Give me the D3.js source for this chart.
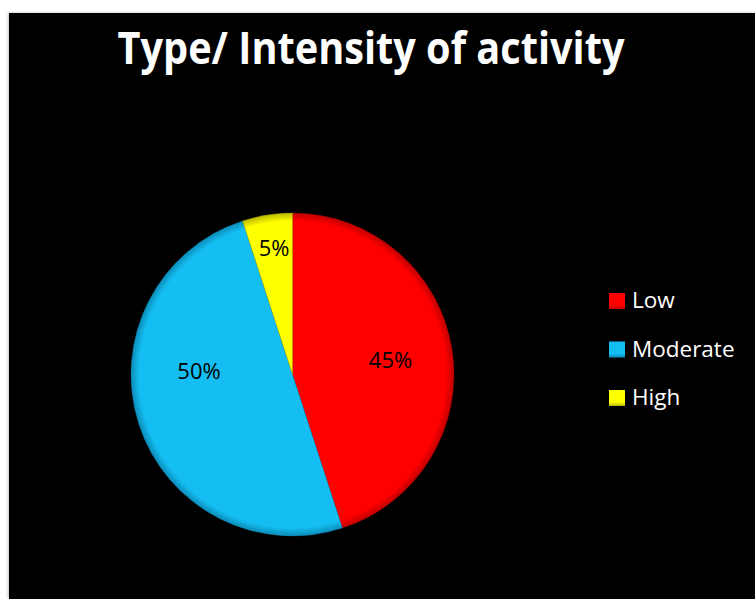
<!DOCTYPE html>
<html><head><meta charset="utf-8">
<script src="https://cdn.jsdelivr.net/npm/d3@7"></script>
<style>html,body{margin:0;padding:0;background:#fff;}svg{display:block;}</style>
</head><body>
<script>
const title = "Type/ Intensity of activity";
const categories = ["Low", "Moderate", "High"];
const values = [45, 50, 5];
const colors = ["#FF0000", "#14BEF2", "#FFFF00"];
const rimColors = ["#C00000", "#0C8CB8", "#B8B800"];

const W = 755, H = 599;
const svg = d3.select("body").append("svg").attr("width", W).attr("height", H);
const defs = svg.append("defs");

const sh = defs.append("filter").attr("id","shadow").attr("x","-5%").attr("y","-5%").attr("width","110%").attr("height","110%");
sh.append("feGaussianBlur").attr("in","SourceAlpha").attr("stdDeviation",1.5);
sh.append("feOffset").attr("dx",-1).attr("dy",0).attr("result","b");
sh.append("feFlood").attr("flood-color","#000").attr("flood-opacity",0.25);
sh.append("feComposite").attr("in2","b").attr("operator","in");
const fm = sh.append("feMerge"); fm.append("feMergeNode"); fm.append("feMergeNode").attr("in","SourceGraphic");

svg.append("rect").attr("x",9).attr("y",13).attr("width",W-9).attr("height",H-13).attr("fill","#000").attr("filter","url(#shadow)");

svg.append("text").attr("x",371).attr("y",64).attr("text-anchor","middle")
  .attr("font-family","Open Sans").attr("font-weight","bold").attr("font-size",45)
  .attr("fill","#fff").attr("textLength",507).attr("lengthAdjust","spacingAndGlyphs").text(title);

const cx = 292.5, cy = 374.5, R = 161.5;
const pie = d3.pie().sort(null).value(d => d)(values);
const arc = d3.arc().innerRadius(0).outerRadius(R);
const g = svg.append("g").attr("transform",`translate(${cx},${cy})`);

colors.forEach((c,i) => {
  const rg = defs.append("radialGradient").attr("id","rg"+i).attr("gradientUnits","userSpaceOnUse")
    .attr("cx",0).attr("cy",0).attr("r",R);
  rg.append("stop").attr("offset","0").attr("stop-color",c);
  rg.append("stop").attr("offset","0.95").attr("stop-color",c);
  rg.append("stop").attr("offset","1").attr("stop-color",rimColors[i]);
});

g.selectAll("path.slice").data(pie).join("path").attr("class","slice")
  .attr("d",arc).attr("fill",(d,i)=>`url(#rg${i})`)
  .attr("stroke",(d,i)=>rimColors[i]).attr("stroke-width",0.6).attr("stroke-opacity",0.5);

const labelPos = [[98,-7],[-93.5,4],[-18.5,-119]];
g.selectAll("text.lbl").data(pie).join("text").attr("class","lbl")
  .attr("x",(d,i)=>labelPos[i][0]).attr("y",(d,i)=>labelPos[i][1])
  .attr("text-anchor","middle").attr("font-family","Open Sans").attr("font-size",22)
  .attr("fill","#000").text(d => d.value + "%");

const leg = svg.append("g");
categories.forEach((c,i) => {
  const y = 293 + i*48.5;
  const lg = defs.append("linearGradient").attr("id","lg"+i).attr("x1",0).attr("y1",0).attr("x2",0).attr("y2",1);
  lg.append("stop").attr("offset","0").attr("stop-color",colors[i]);
  lg.append("stop").attr("offset","0.75").attr("stop-color",colors[i]);
  lg.append("stop").attr("offset","1").attr("stop-color",rimColors[i]);
  leg.append("rect").attr("x",609).attr("y",y).attr("width",16).attr("height",16)
    .attr("fill",`url(#lg${i})`);
  leg.append("text").attr("x",632).attr("y",y+15).attr("font-family","Open Sans").attr("font-size",22.5)
    .attr("fill","#fff").text(c);
});
</script>
</body></html>
